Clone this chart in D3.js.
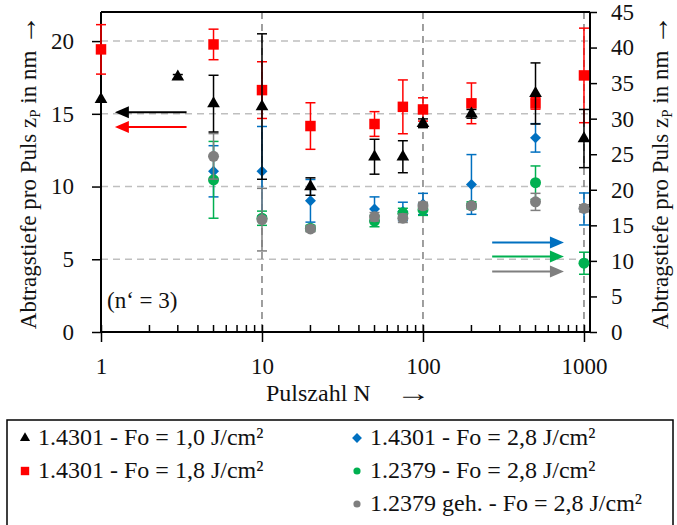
<!DOCTYPE html>
<html>
<head>
<meta charset="utf-8">
<script src="https://cdn.jsdelivr.net/npm/d3@7"></script>
<style>
  body { margin: 0; background: #fff; }
</style>
</head>
<body>
<svg id="chart" width="677" height="525"></svg>
<script>
// Pulszahl N (x) — shared ticks
const xTicks = [1, 10, 100, 1000];
const xMinor = [2,3,4,5,6,7,8,9,20,30,40,50,60,70,80,90,200,300,400,500,600,700,800,900];
const leftTicks = [0, 5, 10, 15, 20];
const rightTicks = [0, 5, 10, 15, 20, 25, 30, 35, 40, 45];

// 1.4301 - Fo = 1,0 J/cm² (linke Achse)
const blackN   = [1, 3, 5, 10, 20, 50, 75, 100, 200, 500, 1000];
const blackVal = [16.0, 17.55, 15.7, 15.5, 10.0, 12.05, 12.05, 14.35, 15.0, 16.4, 13.3];
const blackErr = [0, 0.15, 1.95, 5.0, 0.6, 1.2, 1.1, 0.3, 0.3, 2.1, 2.0];

// 1.4301 - Fo = 1,8 J/cm² (linke Achse)
const redN   = [1, 5, 10, 20, 50, 75, 100, 200, 500, 1000];
const redVal = [19.43, 19.77, 16.63, 14.16, 14.3, 15.48, 15.3, 15.72, 15.72, 17.64];
const redErr = [1.7, 1.05, 1.95, 1.6, 0.85, 1.85, 0.8, 1.4, 0.4, 3.25];

// 1.4301 - Fo = 2,8 J/cm² (rechte Achse)
const blueN   = [5, 10, 20, 50, 75, 100, 200, 500, 1000];
const blueVal = [22.6, 22.6, 18.45, 17.3, 16.95, 18.0, 20.75, 27.3, 17.3];
const blueErr = [3.6, 6.3, 3.0, 1.7, 1.3, 1.5, 4.2, 2.0, 2.25];

// 1.2379 - Fo = 2,8 J/cm² (rechte Achse)
const greenN   = [5, 10, 20, 50, 75, 100, 200, 500, 1000];
const greenVal = [21.4, 16.0, 14.6, 15.6, 16.7, 17.2, 17.8, 21.0, 9.67];
const greenErr = [5.4, 1.0, 0.4, 0.8, 0.7, 0.8, 0.5, 2.35, 1.55];

// 1.2379 geh. - Fo = 2,8 J/cm² (rechte Achse)
const grayN   = [5, 10, 20, 50, 75, 100, 200, 500, 1000];
const grayVal = [24.7, 15.8, 14.5, 16.2, 16.0, 17.75, 17.75, 18.3, 17.4];
const grayErr = [3.2, 4.4, 0.4, 0.6, 0.6, 0.5, 0.3, 1.2, 0.5];

// Pfeile: Niveau in Achseneinheiten
const leftArrowVal  = [15.1, 14.1];
const rightArrowVal = [12.6, 10.6, 8.5];

const svg = d3.select("#chart");
const mLeft = 101, mRight = 590, mTop = 12, mBottom = 332;

const x = d3.scaleLog().domain([1, 1090]).range([mLeft, mRight]);
const yL = d3.scaleLinear().domain([0, 22]).range([mBottom, mTop]);
const yR = d3.scaleLinear().domain([0, 45]).range([mBottom, mTop]);

const C = { black: "#000", red: "#ff0000", blue: "#0070c0", green: "#00b050", gray: "#7f7f7f" };

// grid
svg.append("g").selectAll("line").data(leftTicks.filter(d => d > 0)).join("line")
  .attr("x1", mLeft).attr("x2", mRight).attr("y1", d => yL(d)).attr("y2", d => yL(d))
  .attr("stroke", "#bfbfbf").attr("stroke-width", 1.5).attr("stroke-dasharray", "7,5");
svg.append("g").selectAll("line").data(xTicks.slice(1)).join("line")
  .attr("x1", d => x(d)).attr("x2", d => x(d)).attr("y1", mTop).attr("y2", mBottom)
  .attr("stroke", "#7f7f7f").attr("stroke-width", 1.5).attr("stroke-dasharray", "7,5");

// axes
const gx = svg.append("g").attr("transform", `translate(0,${mBottom})`)
  .call(d3.axisBottom(x).tickValues(xTicks).tickFormat(d3.format("d")).tickSize(10).tickPadding(16));
gx.selectAll(".tick line").attr("y1", -7);
svg.append("g").selectAll("line").data(xMinor).join("line")
  .attr("x1", d => x(d)).attr("x2", d => x(d)).attr("y1", mBottom).attr("y2", mBottom - 7)
  .attr("stroke", "#000").attr("stroke-width", 1.5);

const gl = svg.append("g").attr("transform", `translate(${mLeft},0)`)
  .call(d3.axisLeft(yL).tickValues(leftTicks).tickSize(9).tickPadding(18));

const gr = svg.append("g").attr("transform", `translate(${mRight},0)`)
  .call(d3.axisRight(yR).tickValues(rightTicks).tickSize(7).tickPadding(14));

[gx, gl, gr].forEach(g => {
  g.select(".domain").attr("stroke-width", 2);
  g.selectAll(".tick line").attr("stroke-width", 1.5);
  g.selectAll(".tick text").style("font-size", "23px");
});
gx.select(".domain").attr("d", `M${mLeft},0H${mRight}`);
gl.select(".domain").attr("d", `M0,${mBottom}V${mTop}`);
gr.select(".domain").attr("d", `M0,${mBottom}V${mTop}`);
svg.append("line").attr("x1", mLeft).attr("x2", mRight).attr("y1", mTop).attr("y2", mTop)
  .attr("stroke", "#000").attr("stroke-width", 2);

// series
function drawSeries(ns, vals, errs, y, color, symbol, rotate) {
  const rows = ns.map((n, i) => ({ n, v: vals[i], e: errs[i] }));
  const g = svg.append("g");
  const eb = g.selectAll("g.eb").data(rows.filter(d => d.e > 0)).join("g")
    .attr("stroke", color).attr("stroke-width", 1.5);
  eb.append("line").attr("x1", d => x(d.n)).attr("x2", d => x(d.n))
    .attr("y1", d => y(d.v - d.e)).attr("y2", d => y(d.v + d.e));
  [-1, 1].forEach(s => eb.append("line")
    .attr("x1", d => x(d.n) - 5).attr("x2", d => x(d.n) + 5)
    .attr("y1", d => y(d.v + s * d.e)).attr("y2", d => y(d.v + s * d.e)));
  g.selectAll("path").data(rows).join("path")
    .attr("d", symbol)
    .attr("transform", d => `translate(${x(d.n)},${y(d.v)}) rotate(${rotate || 0})`)
    .attr("fill", color);
}
const triangle = d3.symbol(d3.symbolTriangle, 70)();
const square = d3.symbol(d3.symbolSquare, 110)();
const diamond = d3.symbol(d3.symbolSquare, 60)();
const circle = d3.symbol(d3.symbolCircle, 95)();

drawSeries(blueN, blueVal, blueErr, yR, C.blue, diamond, 45);
drawSeries(greenN, greenVal, greenErr, yR, C.green, circle);
drawSeries(grayN, grayVal, grayErr, yR, C.gray, circle);
drawSeries(redN, redVal, redErr, yL, C.red, square);
drawSeries(blackN, blackVal, blackErr, yL, C.black, triangle);

// arrows
function arrow(y, v, color, x0, x1) {
  const dir = x1 > x0 ? 1 : -1;
  const xe = x(x1), yy = y(v);
  svg.append("line").attr("x1", x(x0)).attr("x2", xe - dir * 8).attr("y1", yy).attr("y2", yy)
    .attr("stroke", color).attr("stroke-width", 2);
  svg.append("path")
    .attr("d", `M${xe},${yy}L${xe - dir * 14},${yy - 6}L${xe - dir * 14},${yy + 6}Z`)
    .attr("fill", color);
}
arrow(yL, leftArrowVal[0], C.black, 3.4, 1.22);
arrow(yL, leftArrowVal[1], C.red, 3.4, 1.22);
arrow(yR, rightArrowVal[0], C.blue, 269, 751);
arrow(yR, rightArrowVal[1], C.green, 269, 751);
arrow(yR, rightArrowVal[2], C.gray, 269, 751);

// texts
svg.append("text").attr("x", 107).attr("y", 308).style("font-size", "23px").text("(n‘ = 3)");

svg.append("text").attr("x", 266).attr("y", 401).style("font-size", "24px").text("Pulszahl N");
svg.append("text").attr("transform", "translate(396,401) scale(1.45,1)")
  .style("font-size", "24px").text("→");

function yTitle(cx) {
  const t = svg.append("text").attr("transform", `translate(${cx},172) rotate(-90)`)
    .attr("text-anchor", "middle").style("font-size", "23px");
  t.append("tspan").text("Abtragstiefe pro Puls z");
  t.append("tspan").attr("baseline-shift", "-25%").style("font-size", "15px").text("P");
  t.append("tspan").text(" in nm ");
  t.append("tspan").style("font-size", "30px").text("→");
}
yTitle(36);
yTitle(668);

// legend
svg.append("rect").attr("x", 7).attr("y", 420).attr("width", 666).attr("height", 120)
  .attr("fill", "none").attr("stroke", "#000").attr("stroke-width", 1.5);
const legend = [
  { sym: triangle, rot: 0, c: C.black, t: "1.4301 - Fo = 1,0 J/cm²", col: 0, row: 0 },
  { sym: square, rot: 0, c: C.red, t: "1.4301 - Fo = 1,8 J/cm²", col: 0, row: 1 },
  { sym: diamond, rot: 45, c: C.blue, t: "1.4301 - Fo = 2,8 J/cm²", col: 1, row: 0 },
  { sym: d3.symbol(d3.symbolCircle, 50)(), rot: 0, c: C.green, t: "1.2379 - Fo = 2,8 J/cm²", col: 1, row: 1 },
  { sym: d3.symbol(d3.symbolCircle, 50)(), rot: 0, c: C.gray, t: "1.2379 geh. - Fo = 2,8 J/cm²", col: 1, row: 2 }
];
const lg = svg.append("g").selectAll("g").data(legend).join("g")
  .attr("transform", d => `translate(${d.col ? 357 : 25},${438 + d.row * 33})`);
lg.append("path").attr("d", d => d.sym).attr("fill", d => d.c)
  .attr("transform", d => `rotate(${d.rot}) scale(${d.col ? 0.9 : 0.8})`);
lg.append("text").attr("x", 13).attr("y", 7).style("font-size", "24px").text(d => d.t);

svg.selectAll("text")
  .style("font-family", "'Liberation Serif', 'DejaVu Serif', serif")
  .style("fill", "#111");
</script>
</body>
</html>
